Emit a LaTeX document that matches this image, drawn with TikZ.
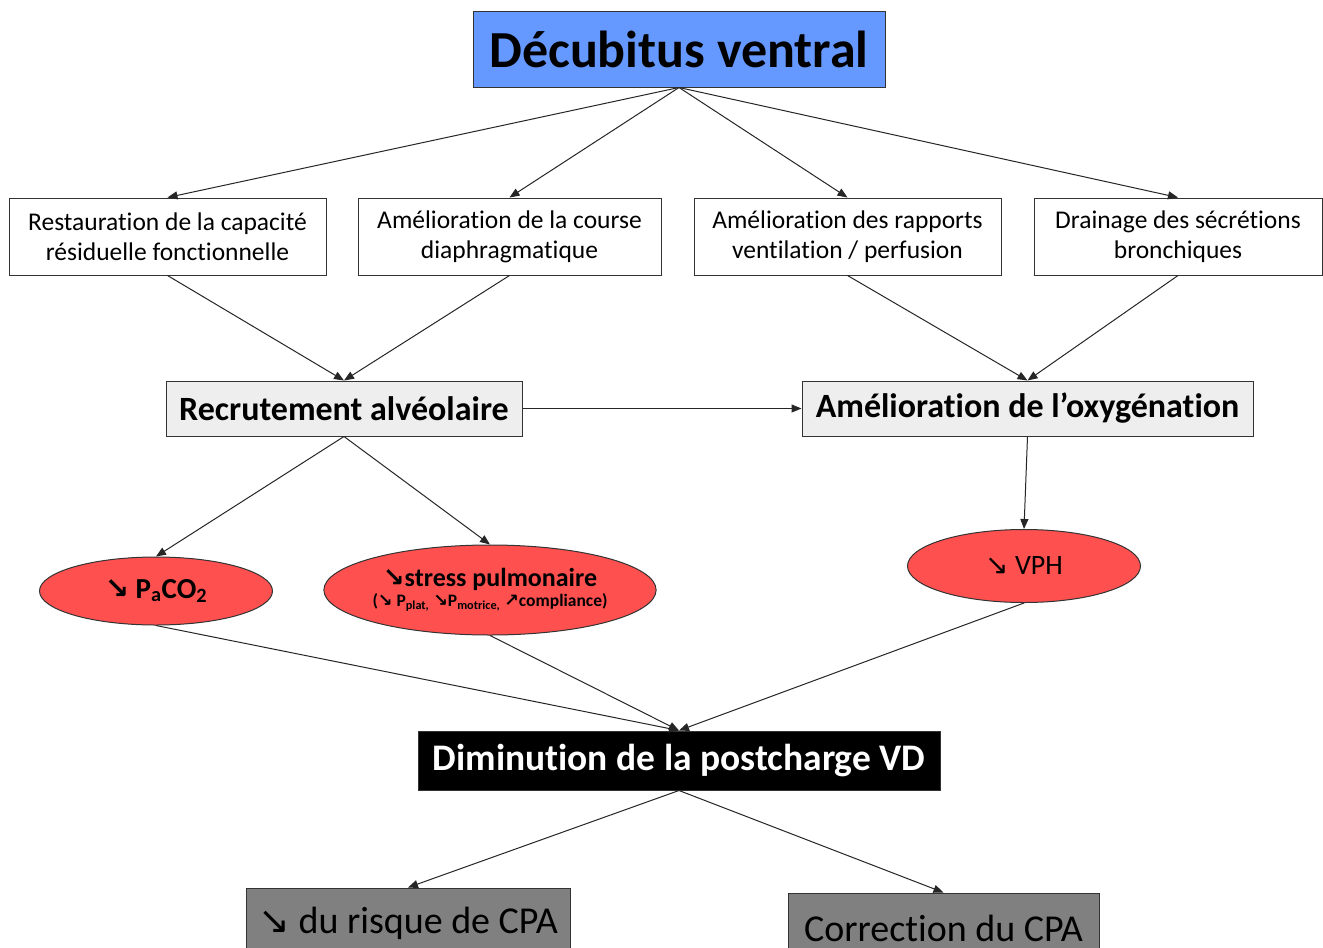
\documentclass[tikz,border=0pt]{standalone}
\usepackage{fontspec}
\setmainfont{Carlito}[Ligatures=NoCommon]
\newfontfamily\arrfont{DejaVu Sans}
\usetikzlibrary{shapes.geometric,arrows.meta}

\definecolor{dvblue}{RGB}{102,153,255}
\definecolor{ellred}{RGB}{255,80,80}
\definecolor{lightgr}{RGB}{238,238,238}
\definecolor{midgr}{RGB}{128,128,128}

\newcommand{\dnarr}{{\arrfont ↘}}
\newcommand{\uparr}{{\arrfont ↗}}

\begin{document}
\begin{tikzpicture}[x=1pt,y=-1pt,
box/.style={draw=black!80, line width=1pt, align=center, inner sep=0pt, fill=#1},
cause/.style={box=white, minimum height=77pt, font=\fontsize{25.5}{30}\selectfont},
effet/.style={box=lightgr, minimum height=55pt, font=\bfseries\fontsize{34}{36}\selectfont},
redell/.style={ellipse, draw=black!80, line width=1pt, fill=ellred, inner sep=0pt, align=center},
fin/.style={box=midgr, minimum height=70pt, font=\fontsize{38}{40}\selectfont},
fl/.style={-{Triangle[length=10pt,width=8pt]}, line width=1pt, black!85}]

\path[use as bounding box, fill=white] (0,0) rectangle (1323,948);
\clip (0,0) rectangle (1323,948);

% top
\node[box=dvblue, minimum width=412pt, minimum height=76pt,
  font=\bfseries\fontsize{52}{56}\selectfont] (dv) at (679,49) {Décubitus ventral};

% mecanismes
\node[cause, minimum width=317pt] (crf) at (167.5,236.5) {Restauration de la capacité\\résiduelle fonctionnelle};
\node[cause, minimum width=303pt] (diaph) at (509.5,236.5) {Amélioration de la course\\diaphragmatique};
\node[cause, minimum width=307pt] (vq) at (847.5,236.5) {Amélioration des rapports\\ventilation / perfusion};
\node[cause, minimum width=288pt] (drain) at (1178,236.5) {Drainage des sécrétions\\bronchiques};

\node[effet, minimum width=356pt] (recr) at (344,408.5) {Recrutement alvéolaire};
\node[effet, minimum width=451pt] (oxy) at (1027.5,408.5) {Amélioration de l’oxygénation};

% ellipses
\node[redell, minimum width=233pt, minimum height=68pt, font=\bfseries\fontsize{29}{32}\selectfont]
  (paco) at (156,591) {\dnarr\ P\textsubscript{a}CO\textsubscript{2}};
\node[redell, minimum width=329pt, minimum height=90pt] (stress) at (490,590)
  {{\bfseries\fontsize{26}{28}\selectfont\dnarr stress pulmonaire}\\[2pt]
   {\bfseries\fontsize{17.5}{20}\selectfont (\dnarr\ P\textsubscript{plat,} \dnarr P\textsubscript{motrice,} \uparr compliance)}};
\node[redell, minimum width=233pt, minimum height=73pt, font=\fontsize{28}{30}\selectfont]
  (vph) at (1024,566) {\dnarr\ VPH};

\node[box=black, text=white, minimum width=522pt, minimum height=59pt,
  font=\bfseries\fontsize{37.5}{40}\selectfont] (vd) at (679,760.5) {Diminution de la postcharge VD};

\node[fin, minimum width=324pt] (risque) at (408,923) {\dnarr\ du risque de CPA};
\node[fin, minimum width=311pt] (corr) at (943.5,928) {Correction du CPA};

% fleches
\foreach \n in {crf,diaph,vq,drain} \draw[fl] (dv.south) -- (\n.north);
\draw[fl] (crf.south) -- (recr.north);
\draw[fl] (diaph.south) -- (recr.north);
\draw[fl] (vq.south) -- (oxy.north);
\draw[fl] (drain.south) -- (oxy.north);
\draw[fl] (recr.east) -- (oxy.west);
\draw[fl] (recr.south) -- (paco.north);
\draw[fl] (recr.south) -- (stress.north);
\draw[fl] (oxy.south) -- (vph.north);
\foreach \n in {paco,stress,vph} \draw[fl] (\n.south) -- (vd.north);
\draw[fl] (vd.south) -- (risque.north);
\draw[fl] (vd.south) -- (corr.north);
\end{tikzpicture}
\end{document}
